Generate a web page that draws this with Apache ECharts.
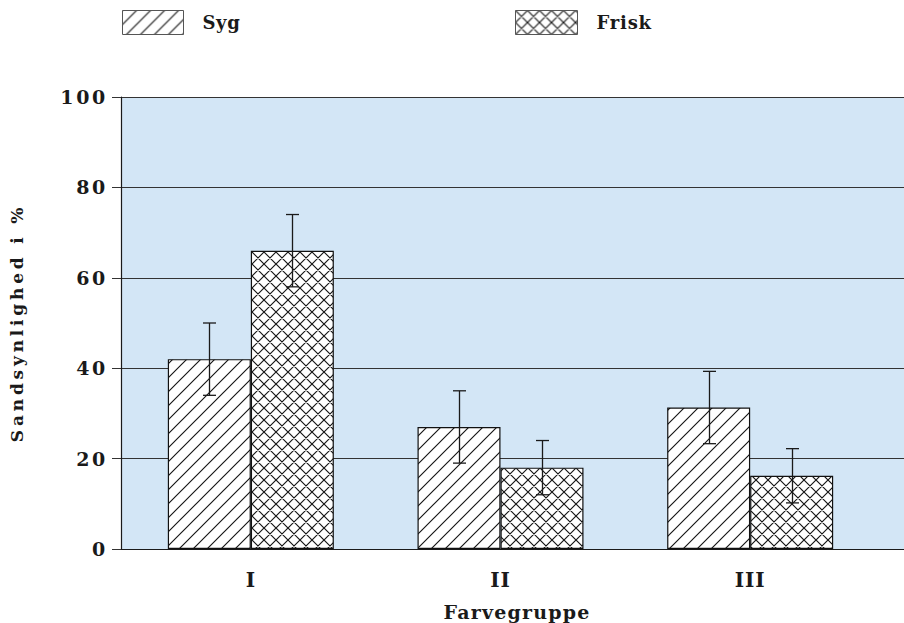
<!DOCTYPE html>
<html>
<head>
<meta charset="utf-8">
<style>
  html, body { margin: 0; padding: 0; background: #ffffff; }
  #chart { width: 904px; height: 623px; }
</style>
<script src="https://cdn.jsdelivr.net/npm/echarts@6/dist/echarts.min.js"></script>
</head>
<body>
<div id="chart"></div>
<script>
// Colour groups on the x axis
const groups = ['I', 'II', 'III'];
// Probability (%) per group with ± error
const sygValues = [42, 27, 31.3];
const sygErrors = [8, 8, 8];
const friskValues = [66, 18, 16.2];
const friskErrors = [8, 6, 6];
// Y axis ticks
const yTicks = [0, 20, 40, 60, 80, 100];

const FONT = 'DejaVu Serif';
const BAR_W = 83;

// Hatch fills drawn on small tiles and repeated
function hatchTile(size, cross) {
  const c = document.createElement('canvas');
  c.width = size; c.height = size;
  const g = c.getContext('2d');
  g.fillStyle = '#ffffff';
  g.fillRect(0, 0, size, size);
  g.strokeStyle = '#151515';
  g.lineWidth = 1.15;
  g.beginPath();
  // "/" direction
  g.moveTo(-1, size + 1); g.lineTo(size + 1, -1);
  g.moveTo(-1, 1); g.lineTo(1, -1);
  g.moveTo(size - 1, size + 1); g.lineTo(size + 1, size - 1);
  if (cross) {
    // "\" direction
    g.moveTo(-1, -1); g.lineTo(size + 1, size + 1);
    g.moveTo(size - 1, -1); g.lineTo(size + 1, 1);
    g.moveTo(-1, size - 1); g.lineTo(1, size + 1);
  }
  g.stroke();
  return { image: c, repeat: 'repeat' };
}
const sygFill = hatchTile(14, false);
const friskFill = hatchTile(12, true);

function errorSeries(values, errors, shift) {
  return {
    type: 'custom',
    xAxisIndex: 1,
    yAxisIndex: 1,
    z: 5,
    silent: true,
    data: values.map((v, i) => [i, v - errors[i], v + errors[i]]),
    renderItem(params, api) {
      const i = api.value(0);
      const lo = api.coord([i, api.value(1)]);
      const hi = api.coord([i, api.value(2)]);
      const x = Math.round(lo[0] + shift) + 0.5;
      const cap = 6.5;
      const style = { stroke: '#1a1a1a', lineWidth: 1.3 };
      return {
        type: 'group',
        children: [
          { type: 'line', shape: { x1: x, y1: hi[1], x2: x, y2: lo[1] }, style },
          { type: 'line', shape: { x1: x - cap, y1: hi[1], x2: x + cap, y2: hi[1] }, style },
          { type: 'line', shape: { x1: x - cap, y1: lo[1], x2: x + cap, y2: lo[1] }, style }
        ]
      };
    }
  };
}

const dom = document.getElementById('chart');
const chart = echarts.init(dom, null, { renderer: 'svg' });

const legendText = { fontFamily: FONT, fontWeight: 'bold', fontSize: 18, color: '#1a1a1a', padding: [0, 0, 0, 14] };

chart.setOption({
  animation: false,
  backgroundColor: '#ffffff',
  legend: [
    {
      data: ['Syg'], left: 122, top: 10, padding: 0,
      itemWidth: 61, itemHeight: 24, icon: 'rect',
      itemStyle: { borderColor: '#555', borderWidth: 1 },
      textStyle: legendText
    },
    {
      data: ['Frisk'], left: 515, top: 10, padding: 0,
      itemWidth: 62, itemHeight: 24, icon: 'rect',
      itemStyle: { borderColor: '#555', borderWidth: 1 },
      textStyle: legendText
    }
  ],
  grid: [
    { left: 121, top: 97, right: 0, bottom: 74, show: true, backgroundColor: '#d3e6f6', borderWidth: 0 },
    { left: 126, top: 97, width: 749, bottom: 74 }
  ],
  xAxis: [
    {
      type: 'value', gridIndex: 0, min: 0, max: 1,
      axisLine: { show: true, lineStyle: { color: '#1a1a1a', width: 1.2 } },
      axisTick: { show: false }, axisLabel: { show: false }, splitLine: { show: false }
    },
    {
      type: 'category', gridIndex: 1, data: groups,
      axisLine: { show: false }, axisTick: { show: false },
      axisLabel: { margin: 21, fontFamily: FONT, fontWeight: 'bold', fontSize: 20, color: '#1a1a1a' }
    }
  ],
  yAxis: [
    {
      type: 'value', gridIndex: 0,
      min: yTicks[0], max: yTicks[yTicks.length - 1], interval: yTicks[1] - yTicks[0],
      name: 'Sandsynlighed i %', nameLocation: 'middle', nameGap: 96,
      nameTextStyle: { fontFamily: FONT, fontWeight: 'bold', fontSize: 17, color: '#1a1a1a' },
      axisLine: { show: true, lineStyle: { color: '#1a1a1a', width: 1.2 } },
      axisTick: { show: true, length: 9, lineStyle: { color: '#333' } },
      axisLabel: { margin: 13, padding: [6, 0, 0, 0], fontFamily: FONT, fontWeight: 'bold', fontSize: 19, color: '#1a1a1a' },
      splitLine: { show: true, lineStyle: { color: '#333333', width: 1.1 } }
    },
    { type: 'value', gridIndex: 1, min: 0, max: 100, show: false }
  ],
  graphic: [
    {
      type: 'text', x: 517, y: 612,
      style: {
        text: 'Farvegruppe', x: 0, y: 0, align: 'center', verticalAlign: 'middle',
        fontFamily: FONT, fontWeight: 'bold', fontSize: 19, fill: '#1a1a1a'
      }
    }
  ],
  series: [
    {
      name: 'Syg', type: 'bar', xAxisIndex: 1, yAxisIndex: 1,
      barWidth: BAR_W, barGap: '0%', data: sygValues,
      itemStyle: { color: sygFill, borderColor: '#111', borderWidth: 1.2 }
    },
    {
      name: 'Frisk', type: 'bar', xAxisIndex: 1, yAxisIndex: 1,
      barWidth: BAR_W, barGap: '0%', data: friskValues,
      itemStyle: { color: friskFill, borderColor: '#111', borderWidth: 1.2 }
    },
    errorSeries(sygValues, sygErrors, -BAR_W / 2),
    errorSeries(friskValues, friskErrors, BAR_W / 2)
  ]
});

// Wide typewriter-like tracking for the labels
const tracking = { 'Syg': 0.6, 'Frisk': 0.8, 'Farvegruppe': 1.2, 'Sandsynlighed i %': 3.8, 'I': 1, 'II': 1, 'III': 1 };
function applyTracking() {
  dom.querySelectorAll('text').forEach(t => {
    const s = t.textContent;
    let ls = tracking[s];
    if (ls == null && /^\d+$/.test(s)) ls = 2.7;
    if (ls != null) t.style.letterSpacing = ls + 'px';
  });
}
chart.on('finished', applyTracking);
chart.getZr().refreshImmediately();
applyTracking();
</script>
</body>
</html>
